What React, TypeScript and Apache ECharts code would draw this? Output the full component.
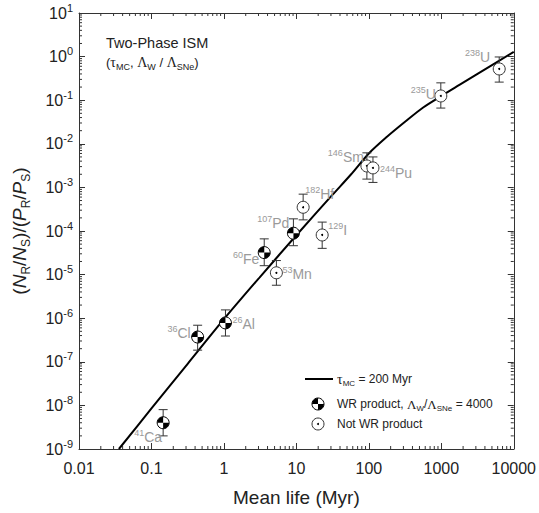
import React, { useEffect, useRef } from "react";
import * as echarts from "echarts";

// ---- data ----
const curveX = [0.0355, 0.1, 0.316, 1, 3.16, 10, 31.6, 56.2, 100, 178, 316, 562, 1000, 1778, 3162, 10000];
const curveY = [1e-9, 8.5e-9, 9e-8, 9.5e-7, 8.9e-6, 8e-5, 6.8e-4, 1.95e-3, 6e-3, 0.0145, 0.032, 0.068, 0.125, 0.224, 0.4, 1.29];

const isotopes = ["41Ca", "36Cl", "26Al", "60Fe", "53Mn", "107Pd", "182Hf", "129I", "146Sm", "244Pu", "235U", "238U"];
const massNumbers = ["41", "36", "26", "60", "53", "107", "182", "129", "146", "244", "235", "238"];
const elements = ["Ca", "Cl", "Al", "Fe", "Mn", "Pd", "Hf", "I", "Sm", "Pu", "U", "U"];
const meanLife = [0.145, 0.434, 1.05, 3.6, 5.3, 9.1, 12.4, 22.7, 94, 114, 985, 6300];
const ratio = [4e-9, 3.7e-7, 7.8e-7, 3.2e-5, 1.1e-5, 8.9e-5, 3.5e-4, 8.1e-5, 3.1e-3, 2.8e-3, 0.125, 0.52];
const errLow = [2e-9, 1.85e-7, 3.9e-7, 1.6e-5, 5.7e-6, 4.6e-5, 1.8e-4, 4e-5, 1.55e-3, 1.3e-3, 0.066, 0.26];
const errHigh = [8e-9, 6.9e-7, 1.55e-6, 6.6e-5, 2.1e-5, 1.9e-4, 7e-4, 1.6e-4, 6.2e-3, 5e-3, 0.25, 0.98];
const wrProduct = [true, true, true, true, false, true, false, false, false, false, false, false];

// label placement (pixel offsets from the marker, and text alignment)
const labelLayout: Record<string, [number, number, string]> = {
  "41Ca": [-1, 14, "right"],
  "36Cl": [-7, -4, "right"],
  "26Al": [7, 1, "left"],
  "60Fe": [-5, 6, "right"],
  "53Mn": [6, 1, "left"],
  "107Pd": [-4, -10, "right"],
  "182Hf": [2, -13, "left"],
  "129I": [6, -5, "left"],
  "146Sm": [-3, -9, "right"],
  "244Pu": [7, 5, "left"],
  "235U": [-5, -2, "right"],
  "238U": [-9, -12, "right"],
};

const FONT = "'Liberation Sans', Arial, Helvetica, sans-serif";
const SERIF = "'Liberation Serif', 'DejaVu Serif', serif";
const DARK = "#222";
const AXIS = "#333";
const LABEL_GRAY = "#9a9a9a";

function minorTicks(e0: number, e1: number): number[] {
  const out: number[] = [];
  for (let e = e0; e < e1; e++) {
    for (let m = 2; m <= 9; m++) out.push(m * Math.pow(10, e));
  }
  return out;
}

export default function App() {
  const ref = useRef<HTMLDivElement>(null);

  useEffect(() => {
    if (!ref.current) return;
    const chart = echarts.init(ref.current, null, { renderer: "svg" });

    const xMinor = minorTicks(-2, 4);
    const yMinor = minorTicks(-9, 1);

    const axisCommonX = {
      type: "log" as const,
      logBase: 10,
      min: 0.01,
      max: 10000,
      interval: 1,
      axisLine: { show: true, lineStyle: { color: AXIS, width: 1 } },
      axisTick: { show: true, inside: true, length: 6, lineStyle: { color: AXIS, width: 1 } },
      splitLine: { show: false },
    };
    const axisCommonY = {
      type: "log" as const,
      logBase: 10,
      min: 1e-9,
      max: 10,
      interval: 1,
      axisLine: { show: true, lineStyle: { color: AXIS, width: 1 } },
      axisTick: { show: true, inside: true, length: 6, lineStyle: { color: AXIS, width: 1 } },
      splitLine: { show: false },
    };

    const subStyle = (size: number) => ({ fontSize: size, fontFamily: FONT, color: DARK, fill: DARK, verticalAlign: "bottom", lineHeight: size });

    const option: any = {
      animation: false,
      backgroundColor: "#fff",
      grid: { left: 79, top: 13, right: 24, bottom: 64 },
      xAxis: [
        {
          ...axisCommonX,
          position: "bottom",
          axisLabel: {
            fontSize: 16,
            color: DARK,
            fontFamily: FONT,
            margin: 11,
            formatter: (v: number) => {
              const e = Math.round(Math.log10(v));
              return e < 0 ? Math.pow(10, e).toFixed(-e) : String(Math.round(Math.pow(10, e)));
            },
          },
          name: "Mean life (Myr)",
          nameLocation: "middle",
          nameGap: 39,
          nameTextStyle: { fontSize: 19, color: DARK, fontFamily: FONT },
        },
        { ...axisCommonX, position: "top", axisLabel: { show: false } },
      ],
      yAxis: [
        {
          ...axisCommonY,
          position: "left",
          axisLabel: {
            margin: 6,
            formatter: (v: number) => `{b|10}{e|${Math.round(Math.log10(v))}}`,
            rich: {
              b: { fontSize: 16, fontFamily: FONT, color: DARK, lineHeight: 22 },
              e: { fontSize: 11, fontFamily: FONT, color: DARK, verticalAlign: "top", lineHeight: 11 },
            },
          },
          name: "{p|(}{i|N}{s|R}{p|/}{i|N}{s|S}{p|)/(}{i|P}{s|R}{p|/}{i|P}{s|S}{p|)}",
          nameLocation: "middle",
          nameRotate: 90,
          nameGap: 47,
          nameTextStyle: {
            rich: {
              p: { fontSize: 19, fontFamily: FONT, color: DARK, lineHeight: 26 },
              i: { fontSize: 19, fontFamily: FONT, fontStyle: "italic", color: DARK, lineHeight: 26 },
              s: { fontSize: 12, fontFamily: FONT, color: DARK, verticalAlign: "bottom", lineHeight: 12 },
            },
          },
        },
        { ...axisCommonY, position: "right", axisLabel: { show: false } },
      ],
      graphic: [
        {
          type: "text",
          x: 106,
          y: 43,
          style: { text: "Two-Phase ISM", fontSize: 14.5, fontFamily: FONT, fill: DARK, verticalAlign: "middle" },
        },
        {
          type: "text",
          x: 106,
          y: 62,
          style: {
            text: "{n|(}{g|τ}{s|MC}{n|, }{g|Λ}{s|W}{n| / }{g|Λ}{s|SNe}{n|)}",
            verticalAlign: "middle",
            rich: {
              n: { fontSize: 13, fontFamily: FONT, fill: DARK, lineHeight: 18 },
              g: { fontSize: 14, fontFamily: SERIF, fill: DARK, lineHeight: 18 },
              s: subStyle(9),
            },
          },
        },
        // legend
        { type: "line", shape: { x1: 305, y1: 379, x2: 333, y2: 379 }, style: { stroke: "#000", lineWidth: 2 } },
        {
          type: "text",
          x: 337,
          y: 379,
          style: {
            text: "{g|τ}{s|MC}{n| = 200 Myr}",
            verticalAlign: "middle",
            rich: {
              n: { fontSize: 12, fontFamily: FONT, fill: DARK, lineHeight: 16 },
              g: { fontSize: 14, fontFamily: SERIF, fill: DARK, lineHeight: 16 },
              s: subStyle(8),
            },
          },
        },
        { type: "circle", shape: { cx: 318, cy: 404, r: 6 }, style: { fill: "#fff", stroke: "#000", lineWidth: 1 } },
        { type: "sector", shape: { cx: 318, cy: 404, r: 6, r0: 0, startAngle: Math.PI, endAngle: Math.PI * 1.5 }, style: { fill: "#000" } },
        { type: "sector", shape: { cx: 318, cy: 404, r: 6, r0: 0, startAngle: 0, endAngle: Math.PI * 0.5 }, style: { fill: "#000" } },
        {
          type: "text",
          x: 337,
          y: 404,
          style: {
            text: "{n|WR product, }{g|Λ}{s|W}{n|/}{g|Λ}{s|SNe}{n| = 4000}",
            verticalAlign: "middle",
            rich: {
              n: { fontSize: 12, fontFamily: FONT, fill: DARK, lineHeight: 16 },
              g: { fontSize: 13, fontFamily: SERIF, fill: DARK, lineHeight: 16 },
              s: subStyle(8),
            },
          },
        },
        { type: "circle", shape: { cx: 318, cy: 424, r: 6 }, style: { fill: "#fff", stroke: AXIS, lineWidth: 1 } },
        { type: "circle", shape: { cx: 318, cy: 424, r: 1 }, style: { fill: "#000" } },
        {
          type: "text",
          x: 337,
          y: 424,
          style: { text: "Not WR product", fontSize: 12, fontFamily: FONT, fill: DARK, verticalAlign: "middle" },
        },
      ],
      series: [
        {
          type: "custom",
          name: "xMinor",
          xAxisIndex: 0,
          yAxisIndex: 0,
          silent: true,
          z: 1,
          data: xMinor.map((v) => [v, 1]),
          encode: { x: 0, y: 1 },
          renderItem: (params: any, api: any) => {
            const cs = params.coordSys;
            const p = api.coord([api.value(0), 1]);
            const b = cs.y + cs.height;
            return {
              type: "group",
              children: [
                { type: "line", shape: { x1: p[0], y1: b, x2: p[0], y2: b - 3 }, style: { stroke: AXIS, lineWidth: 1 } },
                { type: "line", shape: { x1: p[0], y1: cs.y, x2: p[0], y2: cs.y + 3 }, style: { stroke: AXIS, lineWidth: 1 } },
              ],
            };
          },
        },
        {
          type: "custom",
          name: "yMinor",
          xAxisIndex: 0,
          yAxisIndex: 0,
          silent: true,
          z: 1,
          data: yMinor.map((v) => [1, v]),
          encode: { x: 0, y: 1 },
          renderItem: (params: any, api: any) => {
            const cs = params.coordSys;
            const p = api.coord([1, api.value(1)]);
            const r = cs.x + cs.width;
            return {
              type: "group",
              children: [
                { type: "line", shape: { x1: cs.x, y1: p[1], x2: cs.x + 3, y2: p[1] }, style: { stroke: AXIS, lineWidth: 1 } },
                { type: "line", shape: { x1: r, y1: p[1], x2: r - 3, y2: p[1] }, style: { stroke: AXIS, lineWidth: 1 } },
              ],
            };
          },
        },
        {
          type: "line",
          name: "model",
          xAxisIndex: 0,
          yAxisIndex: 0,
          data: curveX.map((x, i) => [x, curveY[i]]),
          showSymbol: false,
          symbol: "none",
          smooth: 0.3,
          lineStyle: { color: "#000", width: 2 },
          z: 2,
        },
        {
          type: "custom",
          name: "isotopes",
          xAxisIndex: 0,
          yAxisIndex: 0,
          z: 3,
          data: meanLife.map((x, i) => [x, ratio[i], errLow[i], errHigh[i], i]),
          encode: { x: 0, y: 1 },
          renderItem: (params: any, api: any) => {
            const i = api.value(4) as number;
            const c = api.coord([api.value(0), api.value(1)]);
            const lo = api.coord([api.value(0), api.value(2)]);
            const hi = api.coord([api.value(0), api.value(3)]);
            const cap = 4.5;
            const r = 6;
            const kids: any[] = [
              { type: "line", shape: { x1: c[0], y1: hi[1], x2: c[0], y2: lo[1] }, style: { stroke: AXIS, lineWidth: 1 } },
              { type: "line", shape: { x1: c[0] - cap, y1: hi[1], x2: c[0] + cap, y2: hi[1] }, style: { stroke: AXIS, lineWidth: 1 } },
              { type: "line", shape: { x1: c[0] - cap, y1: lo[1], x2: c[0] + cap, y2: lo[1] }, style: { stroke: AXIS, lineWidth: 1 } },
              { type: "circle", shape: { cx: c[0], cy: c[1], r }, style: { fill: "#fff", stroke: wrProduct[i] ? "#000" : AXIS, lineWidth: 1 } },
            ];
            if (wrProduct[i]) {
              kids.push({ type: "sector", shape: { cx: c[0], cy: c[1], r, r0: 0, startAngle: Math.PI, endAngle: Math.PI * 1.5 }, style: { fill: "#000" } });
              kids.push({ type: "sector", shape: { cx: c[0], cy: c[1], r, r0: 0, startAngle: 0, endAngle: Math.PI * 0.5 }, style: { fill: "#000" } });
            } else {
              kids.push({ type: "circle", shape: { cx: c[0], cy: c[1], r: 1 }, style: { fill: "#000" } });
            }
            const lay = labelLayout[isotopes[i]];
            kids.push({
              type: "text",
              x: c[0] + lay[0],
              y: c[1] + lay[1],
              style: {
                text: `{m|${massNumbers[i]}}{e|${elements[i]}}`,
                align: lay[2],
                verticalAlign: "middle",
                rich: {
                  m: { fontSize: 9, fontFamily: FONT, fill: LABEL_GRAY, verticalAlign: "top", lineHeight: 9 },
                  e: { fontSize: 14, fontFamily: FONT, fill: LABEL_GRAY, lineHeight: 17 },
                },
              },
            });
            return { type: "group", children: kids };
          },
        },
      ],
    };

    chart.setOption(option);
    return () => chart.dispose();
  }, []);

  return <div ref={ref} style={{ position: "absolute", left: 0, top: 0, width: 539, height: 513 }} />;
}
